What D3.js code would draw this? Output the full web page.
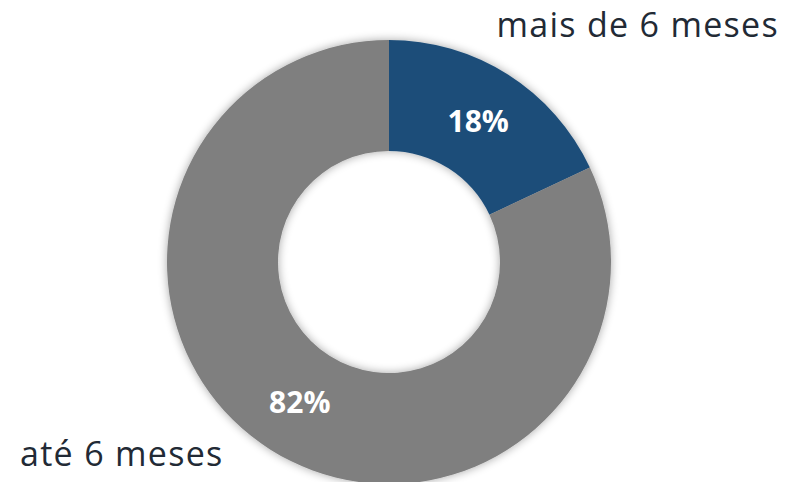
<!DOCTYPE html>
<html>
<head>
<meta charset="utf-8">
<script src="https://cdn.jsdelivr.net/npm/d3@7"></script>
<style>
  html, body { margin: 0; padding: 0; background: #fff; }
  svg { display: block; }
</style>
</head>
<body>
<svg id="svg" width="789" height="482"></svg>
<script>
// chart data
const categories = ["mais de 6 meses", "até 6 meses"];
const shares = [18, 82];
const sliceColors = ["#1F4E79", "#7F7F7F"];

const width = 789, height = 482;
const cx = 389, cy = 262;
const outerR = 222, innerR = 111;

const svg = d3.select("#svg");

// soft shadow like the office chart
const defs = svg.append("defs");
const f = defs.append("filter").attr("id", "shadow")
    .attr("x", "-20%").attr("y", "-20%").attr("width", "140%").attr("height", "140%");
f.append("feGaussianBlur").attr("in", "SourceAlpha").attr("stdDeviation", 5).attr("result", "blur");
f.append("feComponentTransfer").attr("in", "blur").attr("result", "soft")
    .append("feFuncA").attr("type", "linear").attr("slope", 0.35);
const merge = f.append("feMerge");
merge.append("feMergeNode").attr("in", "soft");
merge.append("feMergeNode").attr("in", "SourceGraphic");

const pie = d3.pie().sort(null).value(d => d);
const arc = d3.arc().innerRadius(innerR).outerRadius(outerR);
const arcs = pie(shares);

const g = svg.append("g").attr("transform", `translate(${cx},${cy})`);

g.append("g").attr("filter", "url(#shadow)")
    .selectAll("path")
    .data(arcs)
    .enter()
    .append("path")
    .attr("d", arc)
    .attr("fill", (d, i) => sliceColors[i]);

// percentage labels inside the ring
g.selectAll("text.pct")
    .data(arcs)
    .enter()
    .append("text")
    .attr("class", "pct")
    .attr("transform", d => `translate(${arc.centroid(d)})`)
    .attr("text-anchor", "middle")
    .attr("dy", "0.36em")
    .attr("font-family", "'Open Sans', sans-serif")
    .attr("font-weight", "bold")
    .attr("font-size", 30)
    .attr("fill", "#fff")
    .text(d => d.data + "%");

// category labels outside
const labelPos = [[779, 37, "end"], [20, 466, "start"]];
svg.selectAll("text.cat")
    .data(categories)
    .enter()
    .append("text")
    .attr("class", "cat")
    .attr("x", (d, i) => labelPos[i][0])
    .attr("y", (d, i) => labelPos[i][1])
    .attr("text-anchor", (d, i) => labelPos[i][2])
    .attr("font-family", "'Open Sans', sans-serif")
    .attr("font-size", 34)
    .attr("letter-spacing", 1.3)
    .attr("fill", "#222A35")
    .text(d => d);
</script>
</body>
</html>
